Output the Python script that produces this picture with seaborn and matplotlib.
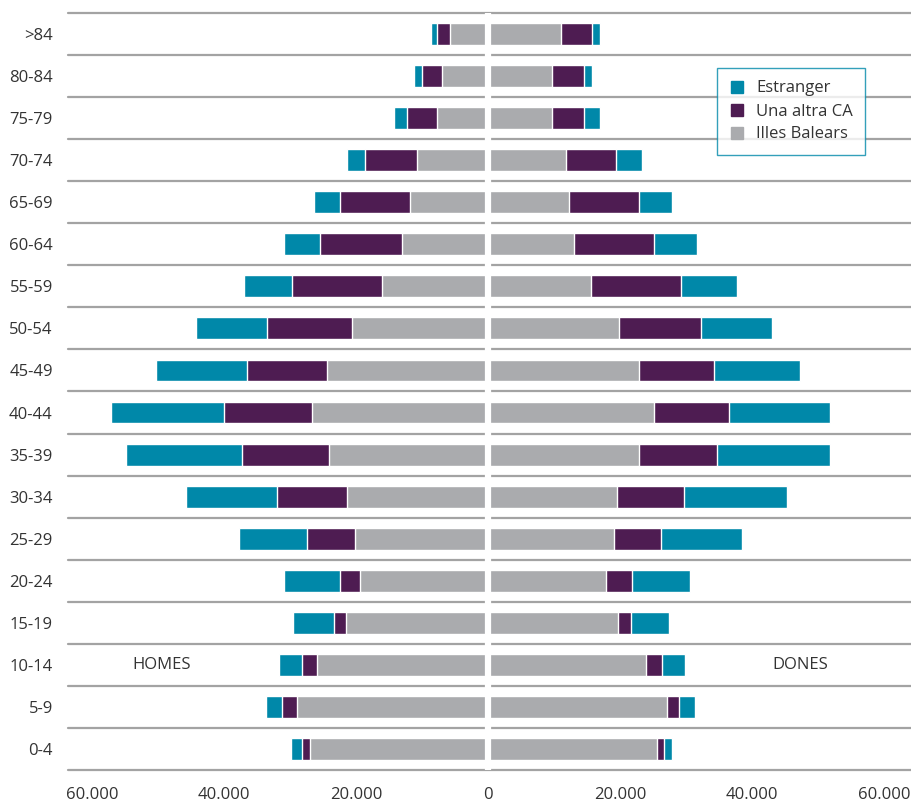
import matplotlib
matplotlib.use('Agg')
import pandas as pd
import matplotlib.pyplot as plt
import seaborn as sns
from matplotlib.lines import Line2D

# grups d'edat, de dalt a baix
edats = ['>84', '80-84', '75-79', '70-74', '65-69', '60-64', '55-59', '50-54',
         '45-49', '40-44', '35-39', '30-34', '25-29', '20-24', '15-19',
         '10-14', '5-9', '0-4']

homes_balears = [5760, 6970, 7730, 10760, 11820, 13030, 16060, 20610, 24390,
                 26670, 24090, 21360, 20150, 19390, 21520, 25910, 28940, 26970]
homes_altra_ca = [1970, 3030, 4550, 7880, 10600, 12420, 13640, 12880, 12120,
                  13330, 13180, 10610, 7270, 3030, 1820, 2270, 2270, 1210]
homes_estranger = [910, 1210, 1970, 2730, 3940, 5450, 7270, 10760, 13790,
                   17120, 17580, 13790, 10300, 8490, 6210, 3480, 2420, 1670]

dones_balears = [11060, 9700, 9700, 11820, 12270, 13030, 15610, 19850, 22880,
                 25150, 22880, 19550, 19090, 17880, 19700, 23940, 27120, 25610]
dones_altra_ca = [4700, 4850, 4850, 7580, 10610, 12120, 13640, 12420, 11360,
                  11360, 11820, 10150, 7120, 3940, 1970, 2420, 1820, 1060]
dones_estranger = [1210, 1210, 2420, 3940, 5000, 6520, 8480, 10760, 13030,
                   15300, 17120, 15610, 12270, 8790, 5760, 3480, 2420, 1210]

ticks = [-60000, -40000, -20000, 0, 20000, 40000, 60000]
tick_labels = ['60.000', '40.000', '20.000', '0', '20.000', '40.000', '60.000']

c_est = '#0088A9'
c_ca = '#4E1C52'
c_ib = '#AAABAE'

sns.set_style('white')
plt.rcParams['font.family'] = ['Open Sans', 'DejaVu Sans']

fig = plt.figure(figsize=(9.11, 8.05), dpi=100)
ax = fig.add_axes([68 / 911, 35 / 805, 843 / 911, 757 / 805])


def piramide(ax, balears, altra_ca, estranger, signe):
    df = pd.DataFrame({'edat': edats, 'ib': balears, 'ca': altra_ca, 'est': estranger})
    df['total'] = signe * (df.ib + df.ca + df.est)
    df['ib_ca'] = signe * (df.ib + df.ca)
    df['ib_s'] = signe * df.ib
    for col, color in [('total', c_est), ('ib_ca', c_ca), ('ib_s', c_ib)]:
        sns.barplot(data=df, x=col, y='edat', order=edats, color=color,
                    saturation=1, width=0.52, errorbar=None, orient='h', ax=ax)


piramide(ax, homes_balears, homes_altra_ca, homes_estranger, -1)
piramide(ax, dones_balears, dones_altra_ca, dones_estranger, 1)

for k in range(len(edats) + 1):
    ax.axhline(k - 0.5, color='#A3A3A3', lw=1.6, zorder=0.5, clip_on=False)
ax.axvline(0, color='white', lw=4.5, zorder=3)

ax.set_xlim(-63640, 64090)
ax.set_ylim(len(edats) - 0.5, -0.5)
ax.set_xticks(ticks)
ax.set_xticklabels(tick_labels)
ax.set_xlabel('')
ax.set_ylabel('')
ax.tick_params(length=0, labelsize=12, labelcolor='#333333')
ax.tick_params(axis='y', pad=11)
ax.tick_params(axis='x', pad=12)
sns.despine(ax=ax, left=True, bottom=True)

ax.text(-49400, 15, 'HOMES', ha='center', va='center', fontsize=12, color='#333333')
ax.text(47350, 15, 'DONES', ha='center', va='center', fontsize=12, color='#333333')

handles = [Line2D([], [], marker='s', ls='', markersize=9, color=c)
           for c in (c_est, c_ca, c_ib)]
leg = ax.legend(handles, ['Estranger', 'Una altra CA', 'Illes Balears'],
                loc='upper left', bbox_to_anchor=(717 / 911, 1 - 68 / 805),
                bbox_transform=fig.transFigure, borderaxespad=0, fancybox=False,
                fontsize=12, handlelength=0.9, handletextpad=0.7,
                labelspacing=0.42, borderpad=0.75, labelcolor='#333333')
leg.get_frame().set_edgecolor(c_est)
leg.get_frame().set_linewidth(1.0)
leg.set_zorder(5)

fig.savefig('out.png', dpi=100)
